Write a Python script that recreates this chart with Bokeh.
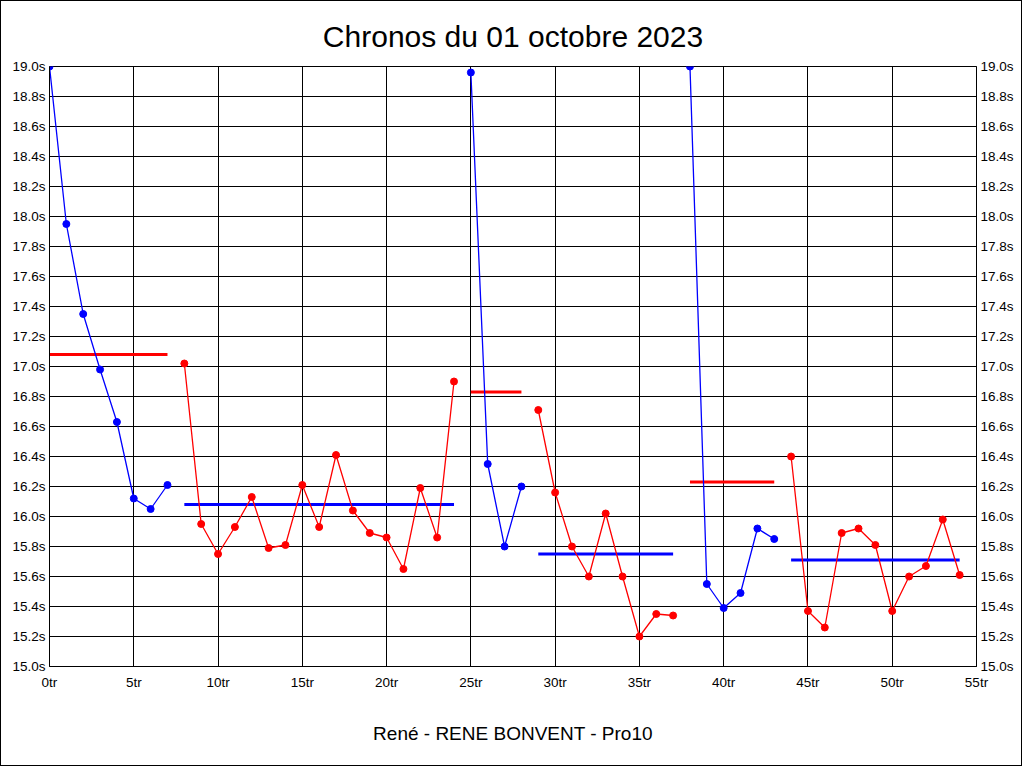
from bokeh.plotting import figure
from bokeh.models import LinearAxis, Range1d, FixedTicker, PrintfTickFormatter
from bokeh.embed import file_html
from bokeh.resources import INLINE

title_text = "Chronos du 01 octobre 2023"
x_label = "René - RENE BONVENT - Pro10"

# Lap segments (blue = warm-up / slow laps, red = run laps)
blue_laps_1 = [0, 1, 2, 3, 4, 5, 6, 7]
blue_times_1 = [19.00, 17.95, 17.35, 16.98, 16.63, 16.12, 16.05, 16.21]
red_laps_1 = [8, 9, 10, 11, 12, 13, 14, 15, 16, 17, 18, 19, 20, 21, 22, 23, 24]
red_times_1 = [17.02, 15.95, 15.75, 15.93, 16.13, 15.79, 15.81, 16.21, 15.93,
               16.41, 16.04, 15.89, 15.86, 15.65, 16.19, 15.86, 16.90]
blue_laps_2 = [25, 26, 27, 28]
blue_times_2 = [18.96, 16.35, 15.80, 16.20]
red_laps_2 = [29, 30, 31, 32, 33, 34, 35, 36, 37]
red_times_2 = [16.71, 16.16, 15.80, 15.60, 16.02, 15.60, 15.20, 15.35, 15.34]
blue_laps_3 = [38, 39, 40, 41, 42, 43]
blue_times_3 = [19.00, 15.55, 15.39, 15.49, 15.92, 15.85]
red_laps_3 = [44, 45, 46, 47, 48, 49, 50, 51, 52, 53, 54]
red_times_3 = [16.40, 15.37, 15.26, 15.89, 15.92, 15.81, 15.37, 15.60, 15.67, 15.98, 15.61]

# Average lines: (start lap, end lap, value)
red_avg_start = [0, 25, 38]
red_avg_end = [7, 28, 43]
red_avg_value = [17.08, 16.83, 16.23]
blue_avg_start = [8, 29, 44]
blue_avg_end = [24, 37, 54]
blue_avg_value = [16.08, 15.75, 15.71]

x_ticks = [0, 5, 10, 15, 20, 25, 30, 35, 40, 45, 50, 55]
y_ticks = [round(15.0 + 0.2 * i, 1) for i in range(21)]

BLUE = "#0000ff"
RED = "#ff0000"
FONT = "Liberation Sans"

p = figure(width=1022, height=766, x_range=Range1d(0, 55), y_range=Range1d(15, 19),
           output_backend="svg", toolbar_location=None,
           min_border_left=48, min_border_right=47, min_border_top=65, min_border_bottom=101)
p.styles = {"border": "1px solid black"}

p.title.text = title_text
p.title.align = "center"
p.title.text_font = FONT
p.title.text_font_size = "30px"
p.title.text_font_style = "normal"
p.title.text_color = "black"
p.title.standoff = 28

p.outline_line_color = "black"
p.outline_line_alpha = 1.0
p.background_fill_color = "white"
p.border_fill_color = "white"

fmt_y = PrintfTickFormatter(format="%.1fs")
fmt_x = PrintfTickFormatter(format="%dtr")

for ax in p.xaxis:
    ax.ticker = FixedTicker(ticks=x_ticks)
    ax.formatter = fmt_x
    ax.axis_label = x_label
    ax.axis_label_text_font = FONT
    ax.axis_label_text_font_size = "19px"
    ax.axis_label_text_font_style = "normal"
    ax.axis_label_text_color = "black"
    ax.axis_label_standoff = 30
    ax.major_label_text_font = FONT
    ax.major_label_text_font_size = "13.5px"
    ax.major_label_text_color = "black"
    ax.major_label_standoff = 8
    ax.major_tick_out = 0
    ax.major_tick_in = 0
    ax.minor_tick_out = 0
    ax.minor_tick_in = 0
    ax.axis_line_color = "black"

def style_y(ax):
    ax.ticker = FixedTicker(ticks=y_ticks)
    ax.formatter = fmt_y
    ax.major_label_text_font = FONT
    ax.major_label_text_font_size = "13.5px"
    ax.major_label_text_color = "black"
    ax.major_label_standoff = 4
    ax.major_tick_out = 0
    ax.major_tick_in = 0
    ax.minor_tick_out = 0
    ax.minor_tick_in = 0
    ax.axis_line_color = "black"

for ax in p.yaxis:
    style_y(ax)

right_axis = LinearAxis()
style_y(right_axis)
p.add_layout(right_axis, "right")

p.xgrid.ticker = FixedTicker(ticks=x_ticks)
p.ygrid.ticker = FixedTicker(ticks=y_ticks)
for g in (p.xgrid, p.ygrid):
    g.grid_line_color = "black"
    g.grid_line_alpha = 1.0
    g.grid_line_width = 1

# Average lines
for s, e, v in zip(red_avg_start, red_avg_end, red_avg_value):
    p.line([s, e], [v, v], line_color=RED, line_width=3)
for s, e, v in zip(blue_avg_start, blue_avg_end, blue_avg_value):
    p.line([s, e], [v, v], line_color=BLUE, line_width=3)

# Lap series
series = [
    (blue_laps_1, blue_times_1, BLUE),
    (red_laps_1, red_times_1, RED),
    (blue_laps_2, blue_times_2, BLUE),
    (red_laps_2, red_times_2, RED),
    (blue_laps_3, blue_times_3, BLUE),
    (red_laps_3, red_times_3, RED),
]
for xs, ys, c in series:
    p.line(xs, ys, line_color=c, line_width=1.3)
    p.scatter(xs, ys, marker="circle", size=7, fill_color=c, line_color=c)

open("out.html", "w").write(file_html(p, INLINE))
